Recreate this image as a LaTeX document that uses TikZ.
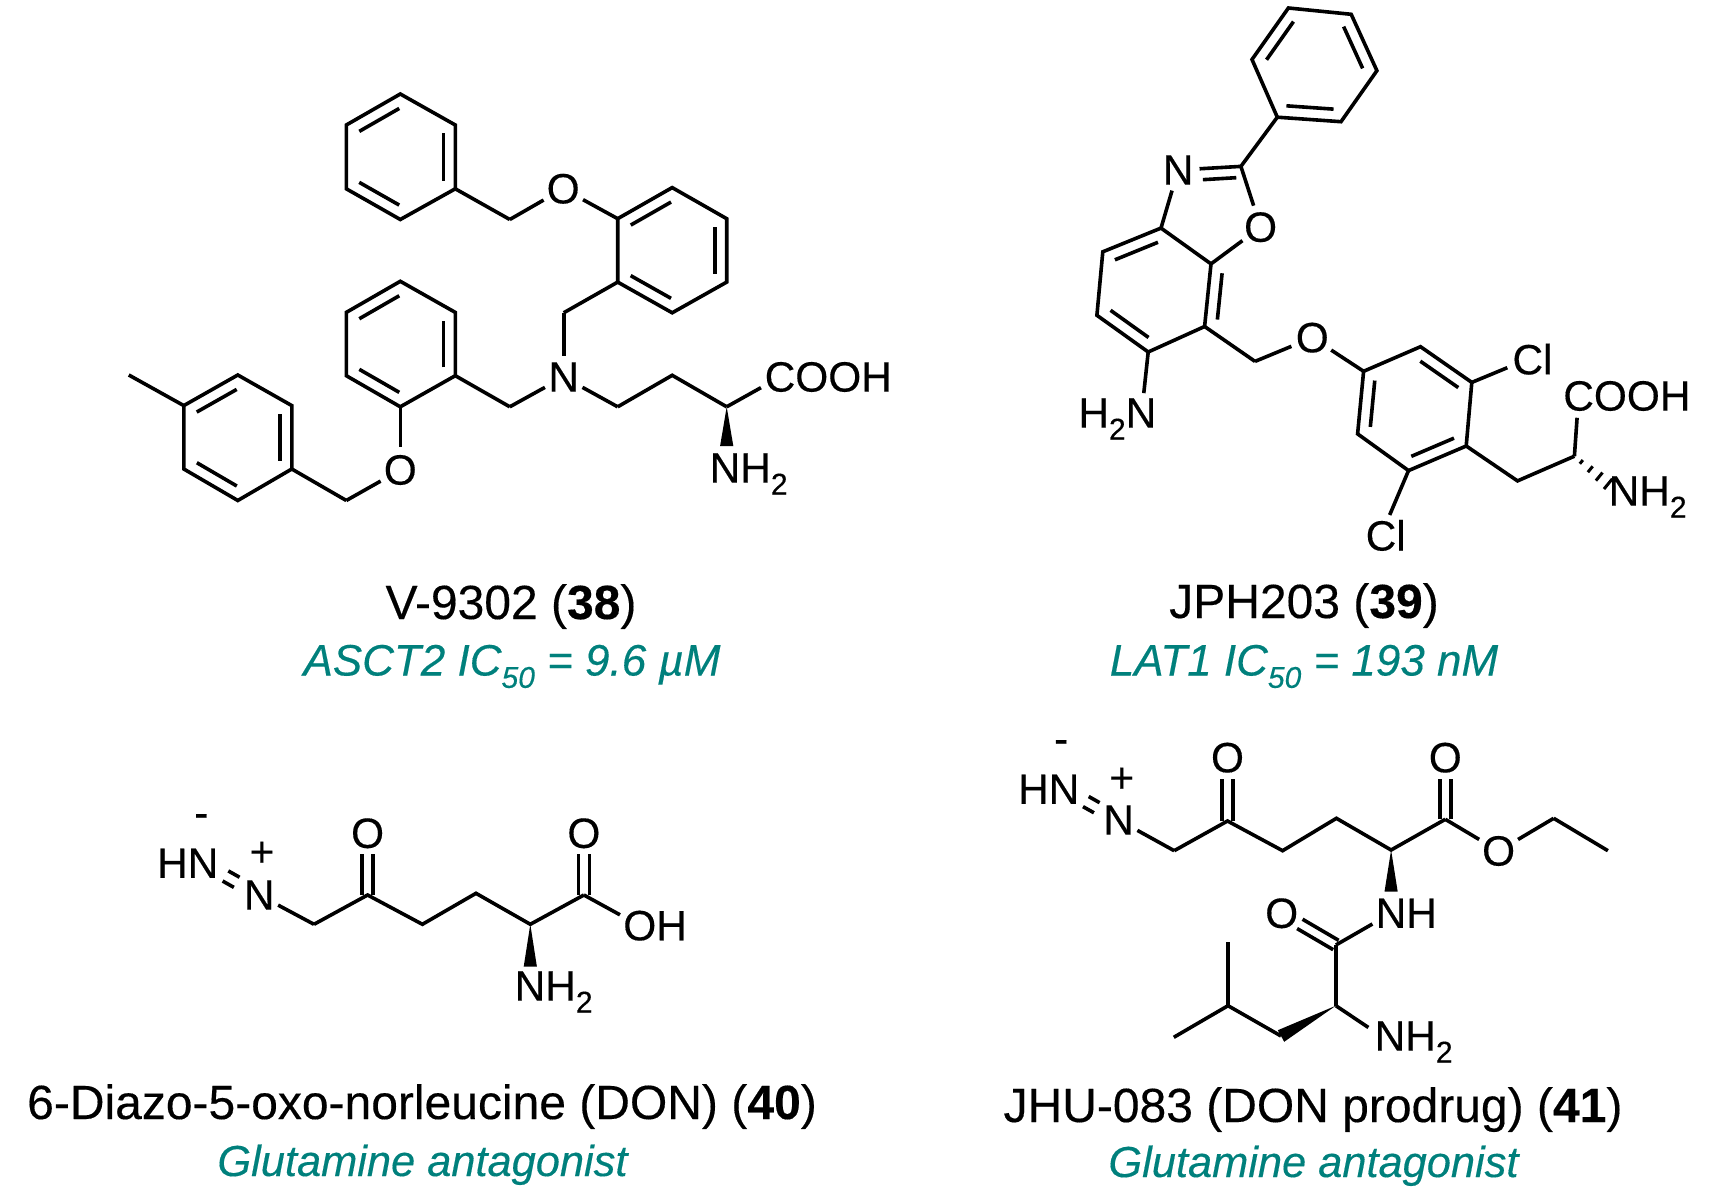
\documentclass[tikz,border=0pt]{standalone}
\usepackage{fontspec}
\setmainfont{Liberation Sans}[UprightFeatures={FakeBold=0.3},ItalicFeatures={FakeBold=0.3},BoldFeatures={FakeBold=0.3}]
\usepackage{tikz}
\usetikzlibrary{calc}
\definecolor{actteal}{RGB}{0,128,124}
\tikzset{
  bondline/.style={line width=1.8pt,line join=miter,black},
  atomlbl/.style={shape=circle,draw=none,fill=none,inner sep=0pt,font=\fontsize{21.2}{24}\selectfont},
  chrglbl/.style={shape=rectangle,draw=none,fill=none,inner sep=0pt,font=\fontsize{21.2}{24}\selectfont},
  captxt/.style={anchor=base,inner sep=0pt,font=\fontsize{24}{26}\selectfont},
  acttxt/.style={anchor=base,inner sep=0pt,text=actteal,font=\fontsize{22}{26}\selectfont\itshape},
  gluttxt/.style={acttxt,font=\fontsize{21.7}{26}\selectfont\itshape}
}
\newcommand{\lowsub}[1]{\raisebox{-0.28em}{\fontsize{15}{15}\selectfont #1}}
\newcommand{\vtx}[3]{\coordinate (#1) at ( #2 , #3 );}
\newcommand{\atm}[4]{\node[atomlbl] (#1) at ( #2 , #3 ) {#4};}
\newcommand{\bond}[2]{\draw[bondline] (#1) -- (#2);}
\newcommand{\offbond}[4]{\draw[bondline] ($(#1)!#3!(#2)!#4!90:(#2)$) -- ($(#2)!#3!(#1)!#4!-90:(#1)$);}
\newcommand{\inbond}[2]{\offbond{#1}{#2}{0.13}{6pt}}
\newcommand{\dblbond}[2]{\draw[bondline,shorten >=10.5pt] ($(#1)!2.7pt!90:(#2)$) -- ($(#2)!2.7pt!-90:(#1)$);
  \draw[bondline,shorten >=10.5pt] ($(#1)!2.7pt!-90:(#2)$) -- ($(#2)!2.7pt!90:(#1)$);}
\newcommand{\wedgebond}[2]{\fill (#1) -- ($(#2)!3.3pt!90:(#1)$) -- ($(#2)!3.3pt!-90:(#1)$) -- cycle;}
\begin{document}
\begin{tikzpicture}[x=0.5pt,y=-0.5pt]
  \useasboundingbox (0,0) rectangle (1709,1198);

  % V-9302, top ring
  \vtx{a1}{400.3}{94} \vtx{a2}{455.3}{125} \vtx{a3}{455.3}{188.8}
  \vtx{a4}{400.3}{219.5} \vtx{a5}{346.3}{188.8} \vtx{a6}{346.3}{125}
  \draw[bondline] (a1) -- (a2) -- (a3) -- (a4) -- (a5) -- (a6) -- cycle;
  \inbond{a1}{a6} \inbond{a3}{a2} \inbond{a5}{a4}
  \vtx{a7}{509.8}{219.5}
  \atm{a8}{563.2}{188.8}{O}
  \bond{a3}{a7} \bond{a7}{a8}

  % V-9302, second ring
  \vtx{b1}{617.7}{218.7} \vtx{b2}{672.2}{187.6} \vtx{b3}{726.7}{218.7}
  \vtx{b4}{726.7}{282.1} \vtx{b5}{672.2}{312.8} \vtx{b6}{617.7}{282.1}
  \draw[bondline] (b1) -- (b2) -- (b3) -- (b4) -- (b5) -- (b6) -- cycle;
  \inbond{b2}{b1} \inbond{b4}{b3} \inbond{b6}{b5}
  \bond{a8}{b1}
  \vtx{b7}{563.7}{312.8}
  \atm{nc}{563.7}{377}{N}
  \bond{b6}{b7} \bond{b7}{nc}

  % V-9302, third ring
  \vtx{c1}{400.3}{281.3} \vtx{c2}{455.3}{312.4} \vtx{c3}{455.3}{375.7}
  \vtx{c4}{400.3}{406.8} \vtx{c5}{346.3}{375.7} \vtx{c6}{346.3}{312.4}
  \draw[bondline] (c1) -- (c2) -- (c3) -- (c4) -- (c5) -- (c6) -- cycle;
  \inbond{c1}{c6} \inbond{c3}{c2} \inbond{c5}{c4}
  \vtx{c7}{509.8}{406.8}
  \bond{c3}{c7} \bond{c7}{nc}
  \atm{c8}{400.3}{470}{O}
  \bond{c4}{c8}
  \vtx{c9}{346.3}{500.5}
  \bond{c8}{c9}

  % V-9302, tolyl ring
  \vtx{d1}{237.8}{375} \vtx{d2}{291.8}{405.6} \vtx{d3}{291.8}{469}
  \vtx{d4}{237.8}{500.5} \vtx{d5}{183.8}{469} \vtx{d6}{183.8}{405.6}
  \draw[bondline] (d1) -- (d2) -- (d3) -- (d4) -- (d5) -- (d6) -- cycle;
  \inbond{d1}{d6} \inbond{d3}{d2} \inbond{d5}{d4}
  \vtx{d7}{128.8}{375}
  \bond{d6}{d7} \bond{d3}{c9}

  % V-9302, chain
  \vtx{e1}{617.7}{406.8} \vtx{e2}{672.2}{375.3} \vtx{e3}{726.7}{406.8}
  \vtx{e4}{726.7}{446}
  \atm{e5}{780}{377}{C\rlap{OOH}}
  \atm{e6}{725}{474}{N\rlap{H\lowsub{2}}}
  \bond{nc}{e1}
  \draw[bondline] (e1) -- (e2) -- (e3);
  \bond{e3}{e5}
  \wedgebond{e3}{e4}

  % JPH203, phenyl
  \vtx{f1}{1288.4}{8} \vtx{f2}{1351.2}{14.3} \vtx{f3}{1376.9}{70.7}
  \vtx{f4}{1341}{121.7} \vtx{f5}{1277.3}{117.2} \vtx{f6}{1252}{59.5}
  \draw[bondline] (f1) -- (f2) -- (f3) -- (f4) -- (f5) -- (f6) -- cycle;
  \inbond{f1}{f6} \inbond{f3}{f2} \inbond{f5}{f4}

  % JPH203, benzoxazole
  \vtx{g1}{1240.9}{166.4}
  \atm{g2}{1178.1}{170}{N}
  \atm{g3}{1260.6}{227.2}{O}
  \vtx{g4}{1161}{228.1} \vtx{g5}{1211}{263.9}
  \vtx{g6}{1102.8}{251.8} \vtx{g7}{1096.9}{315.3}
  \vtx{g8}{1148.2}{352} \vtx{g9}{1204.6}{326.5}
  \vtx{g11}{1197}{169}
  \bond{f5}{g1} \bond{g1}{g3} \bond{g3}{g5} \bond{g2}{g4}
  \bond{g1}{g2}
  \offbond{g1}{g11}{0.12}{5.5pt}
  \draw[bondline] (g4) -- (g5) -- (g9) -- (g8) -- (g7) -- (g6) -- cycle;
  \inbond{g4}{g6} \inbond{g5}{g9} \inbond{g7}{g8}
  \atm{g10}{1141}{419}{\llap{H\lowsub{2}}N}
  \bond{g8}{g10}

  % JPH203, dichlorophenyl
  \vtx{h1}{1255}{361.4}
  \atm{h2}{1312.3}{337.7}{O}
  \bond{g9}{h1} \bond{h1}{h2}
  \vtx{h3}{1363.6}{371.3} \vtx{h4}{1420.5}{346.7} \vtx{h5}{1471.8}{382.4}
  \vtx{h6}{1466.2}{446} \vtx{h7}{1408.5}{470.6} \vtx{h8}{1357.6}{433.9}
  \bond{h2}{h3}
  \draw[bondline] (h3) -- (h4) -- (h5) -- (h6) -- (h7) -- (h8) -- cycle;
  \inbond{h5}{h4} \inbond{h7}{h6} \inbond{h3}{h8}
  \atm{h9}{1527.8}{359.2}{C\rlap{l}}
  \atm{h10}{1381}{535.4}{C\rlap{l}}
  \bond{h5}{h9} \bond{h7}{h10}

  % JPH203, amino acid
  \vtx{i1}{1517.5}{480.9} \vtx{i2}{1574.4}{456.2}
  \atm{i3}{1578.6}{396}{C\rlap{OOH}}
  \atm{i4}{1624}{497}{N\rlap{H\lowsub{2}}}
  \draw[bondline] (h6) -- (i1) -- (i2);
  \bond{i2}{i3}
  \foreach \f/\w in {0.14/1.2pt,0.32/1.9pt,0.5/2.6pt,0.68/3.3pt}
    \draw[line width=1.5pt] ($(i2)!\f!(i4)!\w!90:(i4)$) -- ($(i2)!\f!(i4)!\w!-90:(i4)$);

  % DON
  \atm{j1}{203}{863.3}{\llap{H}N}
  \atm{j2}{259.2}{895}{N}
  \node[chrglbl] (j3) at (201.3,820.7) {-};
  \node[chrglbl] (j4) at (261.9,854) {+};
  \offbond{j1}{j2}{0.4}{2.9pt}
  \offbond{j1}{j2}{0.4}{-2.9pt}
  \vtx{j5}{314}{924.3} \vtx{j6}{367.6}{895} \vtx{j7}{422.4}{924.3}
  \vtx{j8}{476}{893.3} \vtx{j9}{530.3}{924.3} \vtx{j10}{583.9}{895}
  \atm{j11}{367.6}{833.3}{O}
  \atm{j12}{583.9}{833.3}{O}
  \atm{j13}{639.8}{925.7}{O\rlap{H}}
  \atm{j14}{530}{992}{N\rlap{H\lowsub{2}}}
  \vtx{j15}{530.3}{966.7}
  \bond{j2}{j5}
  \draw[bondline] (j5) -- (j6) -- (j7) -- (j8) -- (j9) -- (j10);
  \bond{j10}{j13}
  \dblbond{j6}{j11} \dblbond{j10}{j12}
  \wedgebond{j9}{j15}

  % JHU-083
  \atm{k1}{1064}{789.3}{\llap{H}N}
  \atm{k2}{1118.6}{820}{N}
  \node[chrglbl] (k3) at (1061.2,746.7) {-};
  \node[chrglbl] (k4) at (1121.8,780) {+};
  \offbond{k1}{k2}{0.4}{2.9pt}
  \offbond{k1}{k2}{0.4}{-2.9pt}
  \vtx{k5}{1174.2}{850.7} \vtx{k6}{1227.5}{821} \vtx{k7}{1282.6}{850.7}
  \vtx{k8}{1336.4}{818.3} \vtx{k9}{1391.1}{850} \vtx{k10}{1445.3}{819.3}
  \atm{k11}{1227.5}{757.7}{O}
  \atm{k12}{1445.3}{757.7}{O}
  \atm{k13}{1498.6}{851}{O}
  \vtx{k14}{1553.7}{818.3} \vtx{k15}{1607.9}{850.7}
  \bond{k2}{k5}
  \draw[bondline] (k5) -- (k6) -- (k7) -- (k8) -- (k9) -- (k10);
  \bond{k10}{k13} \bond{k13}{k14} \bond{k14}{k15}
  \dblbond{k6}{k11} \dblbond{k10}{k12}
  \atm{l1}{1391}{913.3}{N\rlap{H}}
  \vtx{l2}{1391.1}{891.7}
  \wedgebond{k9}{l2}
  \vtx{l3}{1335.9}{945}
  \atm{l4}{1281.7}{913.3}{O}
  \vtx{l5}{1335.9}{1005.7}
  \atm{l6}{1390}{1042}{N\rlap{H\lowsub{2}}}
  \vtx{l7}{1281}{1036} \vtx{l8}{1228}{1005.7}
  \vtx{l9}{1228}{942.3} \vtx{l10}{1173.8}{1037.3}
  \bond{l1}{l3} \bond{l3}{l5} \bond{l5}{l6}
  \dblbond{l3}{l4}
  \wedgebond{l5}{l7}
  \bond{l7}{l8} \bond{l8}{l9} \bond{l8}{l10}

  % captions
  \node[captxt] (cap38) at (511,619) {V-9302 (\textbf{38})};
  \node[acttxt] (act38) at (512,675.5) {ASCT2 IC\lowsub{50} = 9.6 µM};
  \node[captxt] (cap39) at (1304,618) {JPH203 (\textbf{39})};
  \node[acttxt] (act39) at (1304,675.5) {LAT1 IC\lowsub{50} = 193 nM};
  \node[captxt] (cap40) at (422,1119) {6-Diazo-5-oxo-norleucine (DON) (\textbf{40})};
  \node[gluttxt] (act40) at (422.5,1176) {Glutamine antagonist};
  \node[captxt] (cap41) at (1313,1122) {JHU-083 (DON prodrug) (\textbf{41})};
  \node[gluttxt] (act41) at (1313.5,1177) {Glutamine antagonist};
\end{tikzpicture}
\end{document}
